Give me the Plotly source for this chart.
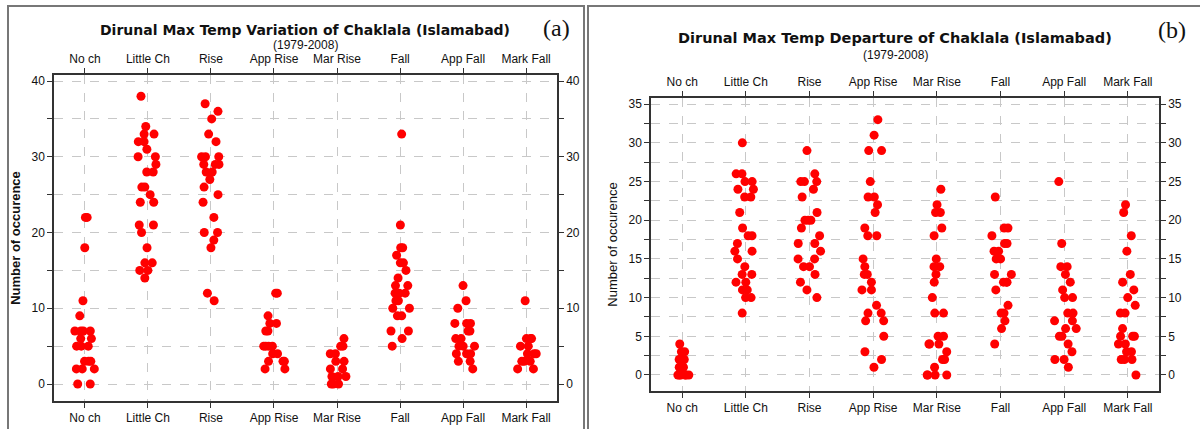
import plotly.graph_objects as go

# categories shared by both panels
categories = ["No ch", "Little Ch", "Rise", "App Rise", "Mar Rise", "Fall", "App Fall", "Mark Fall"]

# (a) Dirunal Max Temp Variation - values per category
var_no_ch = [22, 22, 18, 11, 9, 7, 7, 7, 7, 6, 6, 5, 5, 5, 3, 3, 3, 2, 2, 2, 0, 0]
var_little_ch = [38, 34, 33, 33, 32, 32, 31, 30, 30, 29, 28, 28, 26, 26, 25, 24, 24,
                 21, 21, 20, 18, 16, 16, 15, 15, 14]
var_rise = [37, 36, 35, 33, 32, 30, 30, 30, 29, 29, 29, 28, 28, 27, 26, 25, 24, 22,
            20, 20, 19, 18, 12, 11]
var_app_rise = [12, 12, 9, 8, 8, 7, 7, 5, 5, 5, 5, 4, 4, 3, 3, 3, 2, 2]
var_mar_rise = [6, 5, 5, 4, 4, 3, 3, 2, 2, 1, 1, 1, 0, 0, 0]
var_fall = [33, 21, 18, 18, 17, 16, 16, 15, 14, 13, 13, 12, 12, 12, 11, 11, 10, 10,
            9, 9, 7, 7, 6, 5]
var_app_fall = [13, 11, 10, 8, 8, 8, 7, 7, 6, 6, 5, 5, 5, 4, 4, 4, 3, 3, 2]
var_mark_fall = [11, 6, 6, 6, 5, 5, 4, 4, 4, 3, 3, 3, 2, 2]

# (b) Dirunal Max Temp Departure - values per category
dep_no_ch = [4, 3, 3, 2, 2, 2, 2, 1, 1, 1, 1, 1, 0, 0, 0, 0, 0, 0]
dep_little_ch = [30, 26, 26, 25, 25, 24, 24, 23, 23, 21, 19, 18, 18, 17, 16, 16, 15,
                 14, 13, 13, 12, 12, 11, 11, 10, 10, 8]
dep_rise = [29, 26, 25, 25, 25, 24, 23, 21, 20, 20, 20, 19, 18, 17, 17, 16, 15, 15,
            14, 14, 13, 12, 11, 10]
dep_app_rise = [33, 31, 29, 29, 25, 23, 23, 22, 21, 19, 18, 18, 15, 14, 13, 13, 12,
                11, 11, 9, 8, 8, 7, 7, 5, 3, 2, 1]
dep_mar_rise = [24, 22, 21, 21, 19, 18, 15, 14, 14, 13, 12, 10, 8, 8, 5, 5, 4, 4, 4,
                3, 2, 2, 1, 0, 0, 0, 0]
dep_fall = [23, 19, 19, 18, 17, 17, 16, 16, 15, 15, 13, 13, 12, 12, 12, 11, 9, 8, 8,
            7, 6, 4]
dep_app_fall = [25, 17, 14, 14, 13, 12, 11, 10, 10, 8, 8, 7, 7, 6, 6, 5, 5, 4, 3, 2,
                2, 1]
dep_mark_fall = [22, 21, 18, 16, 13, 12, 11, 10, 9, 8, 8, 6, 5, 5, 5, 4, 4, 3, 3, 2,
                 2, 2, 0]

var_groups = [var_no_ch, var_little_ch, var_rise, var_app_rise, var_mar_rise,
              var_fall, var_app_fall, var_mark_fall]
dep_groups = [dep_no_ch, dep_little_ch, dep_rise, dep_app_rise, dep_mar_rise,
              dep_fall, dep_app_fall, dep_mark_fall]


def long_form(groups):
    xs, ys = [], []
    for cat, vals in zip(categories, groups):
        xs += [cat] * len(vals)
        ys += vals
    return xs, ys


def dot_trace(groups, xa, ya):
    xs, ys = long_form(groups)
    return go.Box(x=xs, y=ys, xaxis=xa, yaxis=ya,
                  boxpoints="all", jitter=0.5, pointpos=0, width=0.8,
                  fillcolor="rgba(0,0,0,0)", line=dict(width=0, color="rgba(0,0,0,0)"),
                  marker=dict(color="#ff0000", size=9, opacity=1),
                  hoveron="points", showlegend=False)


fig = go.Figure()
fig.add_trace(dot_trace(var_groups, "x", "y"))
fig.add_trace(dot_trace(dep_groups, "x3", "y3"))
# empty traces so the top / right axes get drawn
fig.add_trace(go.Scatter(x=[None], y=[None], xaxis="x2", yaxis="y2", showlegend=False, hoverinfo="skip"))
fig.add_trace(go.Scatter(x=[None], y=[None], xaxis="x4", yaxis="y4", showlegend=False, hoverinfo="skip"))

FONT = "Liberation Sans, Arial, sans-serif"
TFONT = "DejaVu Sans, Verdana, sans-serif"
grid = dict(gridcolor="#c8c8c8", griddash="dash", gridwidth=1)
line = dict(showline=True, linecolor="#333333", linewidth=1.5)
xr = [-0.49, 7.49]

# left panel domains
dx1 = [54 / 1200, 557 / 1200]
dy1 = [1 - 401 / 429, 1 - 75 / 429]
# right panel domains
dx2 = [651 / 1200, 1159 / 1200]
dy2 = [1 - 391 / 429, 1 - 98 / 429]

tick_font = dict(family=FONT, size=12, color="#111")


def y_axes(dom, anchor, rng, major, minor, right_name):
    main = dict(domain=dom, anchor=anchor, range=rng, tick0=0, dtick=major,
                showgrid=True, ticks="outside", ticklen=5, tickcolor="#333",
                minor=dict(dtick=minor, tick0=0, showgrid=True, ticks="outside", ticklen=5,
                           tickcolor="#333", gridcolor="#c8c8c8", griddash="dash"),
                tickfont=tick_font, zeroline=False, **grid, **line)
    side = dict(overlaying=right_name, side="right", anchor=anchor, range=rng, tick0=0,
                dtick=major, showgrid=False, ticks="outside", ticklen=5, tickcolor="#333",
                minor=dict(dtick=minor, tick0=0, ticks="outside", ticklen=5, tickcolor="#333"),
                tickfont=tick_font, zeroline=False, **line)
    return main, side


def x_axes(dom, anchor, over):
    main = dict(domain=dom, anchor=anchor, type="category", categoryorder="array",
                categoryarray=categories, range=xr, showgrid=True, ticks="outside",
                ticklen=5, tickcolor="#333", tickfont=tick_font, **grid, **line)
    top = dict(overlaying=over, side="top", anchor=anchor, range=xr,
               tickvals=list(range(len(categories))), ticktext=categories,
               showgrid=False, ticks="outside", ticklen=5, tickcolor="#333",
               tickfont=tick_font, zeroline=False, **line)
    return main, top


y1, y2 = y_axes(dy1, "x", [-2.24, 40.8], 10, 5, "y")
y3, y4 = y_axes(dy2, "x3", [-2.07, 35.8], 5, 2.5, "y3")
x1, x2 = x_axes(dx1, "y", "x")
x3, x4 = x_axes(dx2, "y3", "x3")

y1["title"] = dict(text="<b>Number of occurence</b>", font=dict(family=FONT, size=13), standoff=8)
y3["title"] = dict(text="Number of occurence", font=dict(family=FONT, size=13), standoff=8)

fig.update_layout(
    width=1200, height=429, margin=dict(l=0, r=0, t=0, b=0),
    paper_bgcolor="white", plot_bgcolor="white",
    xaxis=x1, xaxis2=x2, yaxis=y1, yaxis2=y2,
    xaxis3=x3, xaxis4=x4, yaxis3=y3, yaxis4=y4,
    font=dict(family=FONT, color="#111"),
)

# panel frames
fig.add_shape(type="rect", xref="paper", yref="paper", x0=8 / 1200, x1=584 / 1200,
              y0=-0.05, y1=1 - 6 / 429, line=dict(color="#777", width=2))
fig.add_shape(type="rect", xref="paper", yref="paper", x0=588 / 1200, x1=1.01,
              y0=-0.05, y1=1 - 6 / 429, line=dict(color="#777", width=2))

# titles
ann = [
    dict(x=305 / 1200, y=1 - 30 / 429, text="<b>Dirunal Max Temp Variation of Chaklala (Islamabad)</b>",
         font=dict(family=TFONT, size=14)),
    dict(x=305 / 1200, y=1 - 45 / 429, text="(1979-2008)", font=dict(family=FONT, size=12)),
    dict(x=556 / 1200, y=1 - 28 / 429, text="(a)", font=dict(family="Liberation Serif, serif", size=24)),
    dict(x=895 / 1200, y=1 - 38 / 429, text="<b>Dirunal Max Temp Departure of Chaklala (Islamabad)</b>",
         font=dict(family=TFONT, size=14.5)),
    dict(x=895 / 1200, y=1 - 55 / 429, text="(1979-2008)", font=dict(family=FONT, size=12)),
    dict(x=1172 / 1200, y=1 - 30 / 429, text="(b)", font=dict(family="Liberation Serif, serif", size=24)),
]
for a in ann:
    fig.add_annotation(xref="paper", yref="paper", showarrow=False, xanchor="center",
                       yanchor="middle", **a)

fig.write_html("out.html", config={"displayModeBar": False},
               post_script="document.body.style.margin='0';")
